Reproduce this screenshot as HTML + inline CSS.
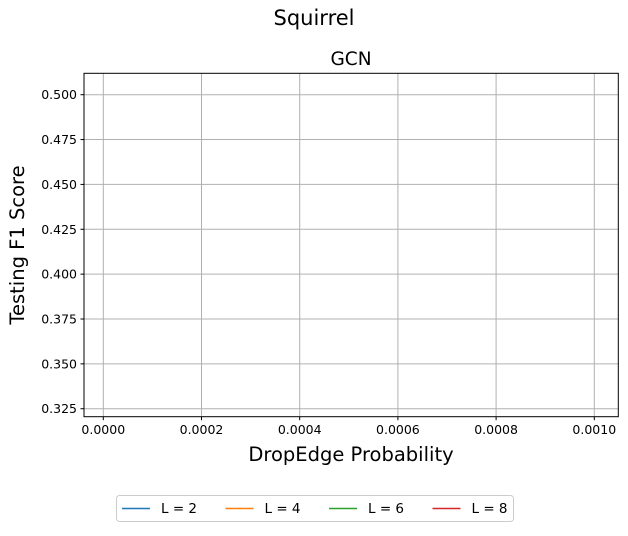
<!DOCTYPE html>
<html><head><meta charset="utf-8"><style>
body{margin:0;background:#fff;}
svg text{font-family:"DejaVu Sans","Liberation Sans",sans-serif;fill:#000;}
</style></head><body>
<svg width="628" height="531" xmlns="http://www.w3.org/2000/svg">
<text x="314" y="25" text-anchor="middle" font-size="21">Squirrel</text>
<text x="351" y="65" text-anchor="middle" font-size="18.5">GCN</text>
<g id="grid"></g>
<g id="xt"></g>
<g id="yt"></g>
<rect x="84" y="73.3" width="534.3" height="343.4" fill="none" stroke="#000" stroke-width="1"/>
<text x="351" y="461" text-anchor="middle" font-size="19.5">DropEdge Probability</text>
<text transform="translate(24,245) rotate(-90)" text-anchor="middle" font-size="19.5">Testing F1 Score</text>
<g>
<rect x="116.5" y="495.5" width="397" height="26" rx="3" fill="#fff" stroke="#ccc"/>
<g id="leg"></g>
</g>
</svg>
<script>
const xTicks=[0,0.0002,0.0004,0.0006,0.0008,0.001];
const xTickLabels=["0.0000","0.0002","0.0004","0.0006","0.0008","0.0010"];
const yTicks=[0.325,0.35,0.375,0.4,0.425,0.45,0.475,0.5];
const yTickLabels=["0.325","0.350","0.375","0.400","0.425","0.450","0.475","0.500"];
const seriesNames=["L = 2","L = 4","L = 6","L = 8"];
const seriesColors=["#1f77b4","#ff7f0e","#2ca02c","#d62728"];
const NS="http://www.w3.org/2000/svg";
const X=v=>103.3+v/0.001*491;
const Y=v=>94.7+(0.5-v)/0.025*44.86;
function mk(t,a,p){const e=document.createElementNS(NS,t);for(const k in a)e.setAttribute(k,a[k]);p.appendChild(e);return e;}
const g=document.getElementById('grid'),xt=document.getElementById('xt'),yt=document.getElementById('yt');
xTicks.forEach((v,i)=>{const x=X(v);
const l=mk('line',{x1:x,x2:x,y1:73.3,y2:416.7,stroke:'#b0b0b0','stroke-width':1},g);

mk('line',{x1:x,x2:x,y1:416.7,y2:420.2,stroke:'#000'},xt);
const t=mk('text',{x:x,y:434,'text-anchor':'middle','font-size':12.5},xt);t.textContent=xTickLabels[i];
});
yTicks.forEach((v,i)=>{const y=Y(v);
const l=mk('line',{x1:84,x2:618.3,y1:y,y2:y,stroke:'#b0b0b0','stroke-width':1},g);

mk('line',{x1:80.5,x2:84,y1:y,y2:y,stroke:'#000'},yt);
const t=mk('text',{x:77,y:y+4.5,'text-anchor':'end','font-size':12.5},yt);t.textContent=yTickLabels[i];
});
const leg=document.getElementById('leg');
seriesNames.forEach((n,i)=>{const x0=122+i*103.5;
const e=mk('g',{},leg);

mk('line',{x1:x0,x2:x0+28,y1:508.5,y2:508.5,stroke:seriesColors[i],'stroke-width':1.5},e);
const t=mk('text',{x:x0+39,y:513,'font-size':13.5},e);t.textContent=n;});
</script>
</body></html>
